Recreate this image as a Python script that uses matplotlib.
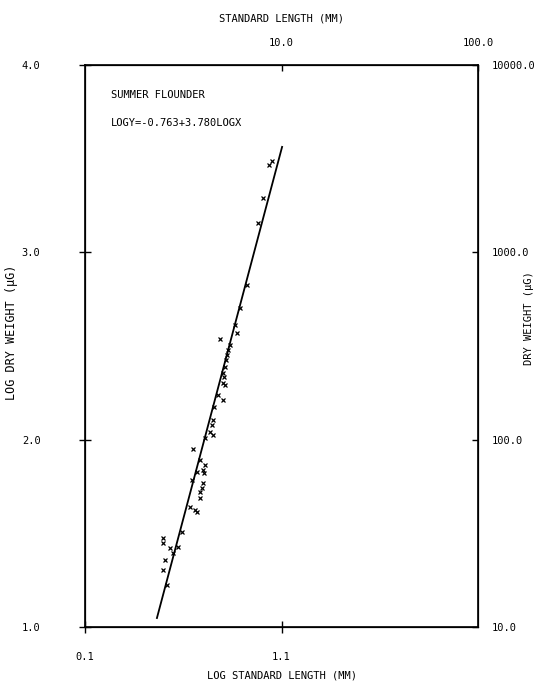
import matplotlib.pyplot as plt

# Summer flounder length-weight data
log_length = [1.036, 1.052, 1.006, 0.980, 0.924, 0.889, 0.863, 0.874, 0.787,
              0.828, 0.823, 0.812, 0.802, 0.807, 0.802, 0.812, 0.802, 0.838,
              0.818, 0.777, 0.756, 0.751, 0.746, 0.736, 0.751, 0.711, 0.650,
              0.685, 0.711, 0.701, 0.706, 0.670, 0.645, 0.701, 0.695, 0.685,
              0.685, 0.634, 0.660, 0.670, 0.594, 0.497, 0.497, 0.533, 0.573,
              0.548, 0.507, 0.497, 0.517]
log_weight = [3.467, 3.488, 3.290, 3.157, 2.826, 2.703, 2.612, 2.570, 2.538,
              2.479, 2.452, 2.388, 2.356, 2.335, 2.303, 2.292, 2.212, 2.506,
              2.426, 2.239, 2.175, 2.105, 2.078, 2.041, 2.025, 2.009, 1.950,
              1.892, 1.865, 1.838, 1.822, 1.828, 1.785, 1.769, 1.742, 1.721,
              1.689, 1.641, 1.625, 1.614, 1.507, 1.475, 1.448, 1.422, 1.427,
              1.395, 1.358, 1.304, 1.224]

# regression line ends
fit_x = [0.466, 1.103]
fit_y = [1.048, 3.563]

bottom_ticks = [0.1, 1.1]
bottom_labels = ["0.1", "1.1"]
top_ticks = [1.1, 2.1]
top_labels = ["10.0", "100.0"]
left_ticks = [1.0, 2.0, 3.0, 4.0]
left_labels = ["1.0", "2.0", "3.0", "4.0"]
right_labels = ["10.0", "100.0", "1000.0", "10000.0"]

plt.rcParams["font.family"] = "DejaVu Sans Mono"
fs = 7.5

fig = plt.figure(figsize=(5.36, 6.86), dpi=100)
ax = fig.add_axes([0.1586, 0.0860, 0.7332, 0.8192])

ax.plot(log_length, log_weight, "x", color="black", markersize=3.5, markeredgewidth=0.9)
ax.plot(fit_x, fit_y, color="black", linewidth=1.3)

ax.set_xlim(0.1, 2.1)
ax.set_ylim(1.0, 4.0)
ax.set_xticks(bottom_ticks)
ax.set_xticklabels(bottom_labels, fontsize=fs)
ax.set_yticks(left_ticks)
ax.set_yticklabels(left_labels, fontsize=fs)
ax.tick_params(axis="x", direction="inout", length=8, width=1, pad=14)
ax.tick_params(axis="y", direction="inout", length=8, width=1, pad=28)
ax.set_xlabel("LOG STANDARD LENGTH (MM)", fontsize=fs)
ax.xaxis.set_label_coords(0.5, -0.078)
ax.set_ylabel("LOG DRY WEIGHT (\u00b5G)", fontsize=8.5)
ax.yaxis.set_label_coords(-0.170, 0.525)

for side in ["left", "bottom", "top", "right"]:
    ax.spines[side].set_linewidth(1.2)

ax.text(0.065, 0.955, "SUMMER FLOUNDER", transform=ax.transAxes,
        fontsize=fs, va="top")
ax.text(0.065, 0.905, "LOGY=-0.763+3.780LOGX", transform=ax.transAxes,
        fontsize=fs, va="top")

top = ax.twiny()
top.set_xlim(ax.get_xlim())
top.set_xticks(top_ticks)
top.set_xticklabels(top_labels, fontsize=fs)
top.tick_params(axis="x", direction="in", length=4, width=1, pad=12)
top.set_xlabel("STANDARD LENGTH (MM)", fontsize=fs)
top.xaxis.set_label_coords(0.5, 1.077)

right = ax.twinx()
right.set_ylim(ax.get_ylim())
right.set_yticks(left_ticks)
right.set_yticklabels(right_labels, fontsize=fs)
right.tick_params(axis="y", direction="in", length=4, width=1, pad=10)
right.set_ylabel("DRY WEIGHT (\u00b5G)", fontsize=fs)
right.yaxis.set_label_coords(1.117, 0.55)

fig.savefig("out.png", dpi=100)
